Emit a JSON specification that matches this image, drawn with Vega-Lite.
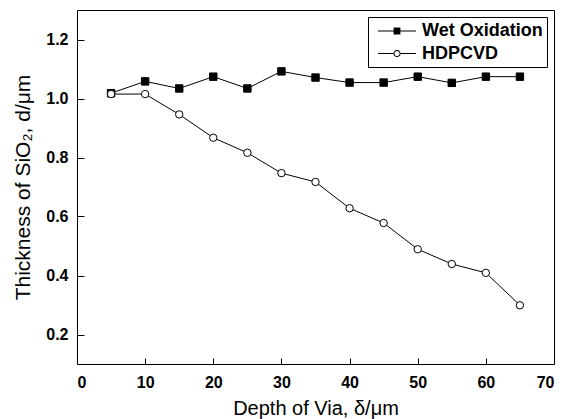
{
  "$schema": "https://vega.github.io/schema/vega-lite/v6.json",
  "autosize": "none",
  "padding": {"left": 77, "top": 10, "right": 15, "bottom": 55},
  "width": 477,
  "height": 354,
  "background": "white",
  "config": {
    "view": {"stroke": "black", "strokeWidth": 1},
    "font": "Liberation Sans",
    "axis": {
      "grid": false,
      "domain": false,
      "zindex": 1,
      "tickColor": "black",
      "tickWidth": 1,
      "labelFont": "Liberation Sans",
      "labelFontWeight": "bold",
      "labelFontSize": 16,
      "labelColor": "black",
      "titleFont": "Liberation Sans",
      "titleFontWeight": "normal",
      "titleFontSize": 20,
      "titleColor": "black"
    }
  },
  "data": {
    "values": [
      {"depth": 5, "thickness": 1.018, "series": "Wet Oxidation"},
      {"depth": 10, "thickness": 1.058, "series": "Wet Oxidation"},
      {"depth": 15, "thickness": 1.034, "series": "Wet Oxidation"},
      {"depth": 20, "thickness": 1.074, "series": "Wet Oxidation"},
      {"depth": 25, "thickness": 1.034, "series": "Wet Oxidation"},
      {"depth": 30, "thickness": 1.092, "series": "Wet Oxidation"},
      {"depth": 35, "thickness": 1.071, "series": "Wet Oxidation"},
      {"depth": 40, "thickness": 1.054, "series": "Wet Oxidation"},
      {"depth": 45, "thickness": 1.054, "series": "Wet Oxidation"},
      {"depth": 50, "thickness": 1.074, "series": "Wet Oxidation"},
      {"depth": 55, "thickness": 1.053, "series": "Wet Oxidation"},
      {"depth": 60, "thickness": 1.074, "series": "Wet Oxidation"},
      {"depth": 65, "thickness": 1.074, "series": "Wet Oxidation"},
      {"depth": 5, "thickness": 1.015, "series": "HDPCVD"},
      {"depth": 10, "thickness": 1.015, "series": "HDPCVD"},
      {"depth": 15, "thickness": 0.946, "series": "HDPCVD"},
      {"depth": 20, "thickness": 0.867, "series": "HDPCVD"},
      {"depth": 25, "thickness": 0.816, "series": "HDPCVD"},
      {"depth": 30, "thickness": 0.747, "series": "HDPCVD"},
      {"depth": 35, "thickness": 0.717, "series": "HDPCVD"},
      {"depth": 40, "thickness": 0.628, "series": "HDPCVD"},
      {"depth": 45, "thickness": 0.578, "series": "HDPCVD"},
      {"depth": 50, "thickness": 0.489, "series": "HDPCVD"},
      {"depth": 55, "thickness": 0.439, "series": "HDPCVD"},
      {"depth": 60, "thickness": 0.409, "series": "HDPCVD"},
      {"depth": 65, "thickness": 0.299, "series": "HDPCVD"}
    ]
  },
  "layer": [
    {
      "mark": {"type": "line", "color": "black", "strokeWidth": 1},
      "encoding": {
        "x": {
          "field": "depth",
          "type": "quantitative",
          "scale": {"domain": [0, 70], "nice": false, "zero": false},
          "axis": {
            "orient": "bottom",
            "title": "Depth of Via, δ/μm",
            "values": [0, 10, 20, 30, 40, 50, 60, 70],
            "ticks": false,
            "labelPadding": 10,
            "titlePadding": 8
          }
        },
        "y": {
          "field": "thickness",
          "type": "quantitative",
          "scale": {"domain": [0.1, 1.3], "nice": false, "zero": false},
          "axis": {
            "orient": "left",
            "title": "Thickness of SiO₂, d/μm",
            "titleFontSize": 21,
            "values": [0.2, 0.4, 0.6, 0.8, 1.0, 1.2],
            "format": ".1f",
            "ticks": false,
            "labelPadding": 9,
            "titlePadding": 12
          }
        },
        "detail": {"field": "series"}
      }
    },
    {
      "mark": {"type": "point", "size": 55, "opacity": 1, "stroke": "black", "strokeWidth": 1},
      "encoding": {
        "x": {
          "field": "depth",
          "type": "quantitative",
          "scale": {"domain": [0, 70], "nice": false, "zero": false},
          "axis": {
            "orient": "top",
            "offset": -354,
            "title": null,
            "labels": false,
            "ticks": true,
            "values": [10, 20, 30, 40, 50, 60],
            "tickSize": 6
          }
        },
        "y": {
          "field": "thickness",
          "type": "quantitative",
          "scale": {"domain": [0.1, 1.3], "nice": false, "zero": false},
          "axis": {
            "orient": "right",
            "offset": -477,
            "title": null,
            "labels": false,
            "ticks": true,
            "values": [0.2, 0.4, 0.6, 0.8, 1.0, 1.2],
            "tickSize": 7
          }
        },
        "shape": {
          "field": "series",
          "type": "nominal",
          "scale": {"domain": ["Wet Oxidation", "HDPCVD"], "range": ["square", "circle"]},
          "legend": null
        },
        "fill": {
          "field": "series",
          "type": "nominal",
          "scale": {"domain": ["Wet Oxidation", "HDPCVD"], "range": ["black", "white"]},
          "legend": null
        }
      }
    },
    {
      "transform": [{"filter": "datum.depth < 0"}],
      "mark": {"type": "point", "filled": true, "color": "black", "opacity": 1, "strokeWidth": 0},
      "encoding": {
        "x": {
          "field": "depth",
          "type": "quantitative",
          "scale": {"domain": [0, 70], "nice": false, "zero": false},
          "axis": null
        },
        "y": {
          "field": "thickness",
          "type": "quantitative",
          "scale": {"domain": [0.1, 1.3], "nice": false, "zero": false},
          "axis": null
        },
        "shape": {
          "field": "series",
          "type": "nominal",
          "scale": {"domain": ["Wet Oxidation", "HDPCVD"], "range": ["M-0.4,-0.05H3.4V0.05H-0.4ZM1.16,-0.34H1.84V0.34H1.16Z", "M-0.4,-0.05H1.14V0.05H-0.4ZM1.86,-0.05H3.4V0.05H1.86ZM1.14,0A0.36,0.36 0 1,0 1.86,0A0.36,0.36 0 1,0 1.14,0ZM1.24,0A0.26,0.26 0 1,1 1.76,0A0.26,0.26 0 1,1 1.24,0Z"]},
          "legend": {
            "title": null,
            "orient": "top-right",
            "offset": 7,
            "padding": 4,
            "rowPadding": 3.5,
            "strokeColor": "black",
            "fillColor": "white",
            "labelFont": "Liberation Sans",
            "labelFontWeight": "bold",
            "labelFontSize": 18,
            "labelColor": "black",
            "symbolSize": 400,
            "symbolFillColor": "black",
            "symbolStrokeWidth": 0,
            "symbolOpacity": 1,
            "labelOffset": 30
          }
        }
      }
    }
  ],
  "resolve": {
    "scale": {"x": "independent", "y": "independent", "shape": "independent"},
    "axis": {"x": "independent", "y": "independent"},
    "legend": {"shape": "independent"}
  }
}
